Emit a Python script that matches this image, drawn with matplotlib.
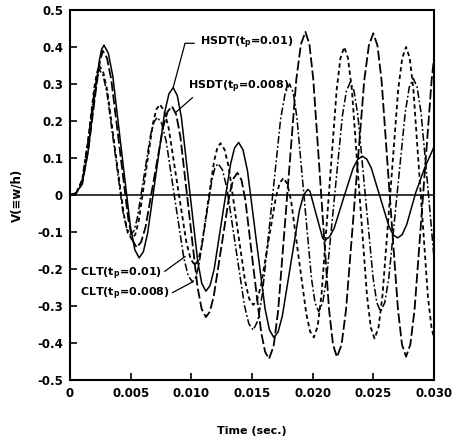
import matplotlib
matplotlib.use("Agg")
import matplotlib.pyplot as plt

# Non-dimensional deflection V = w/h vs time, HSDT and CLT, two pulse durations
plt.rcParams['font.family'] = ['DejaVu Sans']
plt.rcParams['font.weight'] = 'bold'
plt.rcParams['mathtext.fontset'] = 'dejavusans'

# HSDT, t_p = 0.01 (solid)
t_hsdt_01 = [0, 0.0005, 0.001, 0.0015, 0.002, 0.0024, 0.0026, 0.0028,
             0.00316, 0.00353, 0.00425, 0.00498, 0.00534, 0.0057,
             0.00605, 0.0064, 0.0071, 0.0078, 0.00815, 0.0085,
             0.00884, 0.00918, 0.00985, 0.01053, 0.01086, 0.0112,
             0.01154, 0.01188, 0.01255, 0.01323, 0.01356, 0.0139,
             0.01426, 0.01463, 0.01535, 0.01608, 0.01644, 0.0168,
             0.01715, 0.0175, 0.0182, 0.0189, 0.01925, 0.0196,
             0.01978, 0.0203, 0.02083, 0.0210,
             0.02139, 0.02178, 0.02255, 0.02333, 0.02371, 0.0241,
             0.02446, 0.02483, 0.02555, 0.02628, 0.02664, 0.0270,
             0.02738, 0.02775, 0.0285, 0.02925, 0.0300]
v_hsdt_01 = [0, 0.005, 0.03, 0.12, 0.26, 0.36, 0.393, 0.405,
             0.383, 0.321, 0.118, -0.086, -0.148, -0.17,
             -0.153, -0.103, 0.06, 0.223, 0.273, 0.29,
             0.269, 0.21, 0.015, -0.18, -0.239, -0.26,
             -0.245, -0.201, -0.059, 0.083, 0.127, 0.142,
             0.122, 0.065, -0.122, -0.308, -0.365, -0.385,
             -0.37, -0.327, -0.185, -0.043, 0.0, 0.015,
             0.01, -0.054, -0.117, -0.122,
             -0.113, -0.089, -0.008, 0.072, 0.096, 0.105,
             0.097, 0.073, -0.005, -0.084, -0.108, -0.116,
             -0.107, -0.08, 0.007, 0.075, 0.13]

# HSDT, t_p = 0.008 (long dash)
t_hsdt_008 = [0, 0.0005, 0.001, 0.0015, 0.002, 0.0024, 0.0027,
              0.00305, 0.0034, 0.0041, 0.0048, 0.00515, 0.0055,
              0.00586, 0.00623, 0.00695, 0.00768, 0.00804, 0.0084,
              0.00875, 0.0091, 0.0098, 0.0105, 0.01085, 0.0112,
              0.01153, 0.01185, 0.0125, 0.01315, 0.01348, 0.0138,
              0.01413, 0.01445, 0.0151, 0.01575, 0.01608, 0.0164,
              0.01678, 0.01715, 0.0179, 0.01865, 0.01903, 0.0194,
              0.01973, 0.02005, 0.0207, 0.02135, 0.02168, 0.0220,
              0.02238, 0.02275, 0.0235, 0.02425, 0.02463, 0.0250,
              0.02534, 0.02568, 0.02635, 0.02703, 0.02736, 0.0277,
              0.02805, 0.0284, 0.0291, 0.0298, 0.0300]
v_hsdt_008 = [0, 0.005, 0.03, 0.12, 0.25, 0.35, 0.39,
              0.37, 0.312, 0.124, -0.064, -0.122, -0.142,
              -0.127, -0.086, 0.049, 0.184, 0.225, 0.24,
              0.218, 0.157, -0.045, -0.247, -0.308, -0.33,
              -0.315, -0.273, -0.135, 0.003, 0.045, 0.06,
              0.041, -0.013, -0.192, -0.37, -0.424, -0.443,
              -0.409, -0.314, -0.001, 0.312, 0.407, 0.441,
              0.408, 0.313, 0.002, -0.31, -0.405, -0.438,
              -0.405, -0.31, 0.0, 0.309, 0.404, 0.437,
              0.404, 0.309, 0.0, -0.309, -0.404, -0.437,
              -0.404, -0.309, 0.0, 0.309, 0.37]

# CLT, t_p = 0.01 (short dash)
t_clt_01 = [0, 0.0005, 0.001, 0.0015, 0.002, 0.0022, 0.0024,
            0.00274, 0.00308, 0.00375, 0.00443, 0.00476, 0.0051,
            0.00539, 0.00568, 0.00625, 0.00683, 0.00711, 0.0074,
            0.00776, 0.00813, 0.00885, 0.00958, 0.00994, 0.0103,
            0.01056, 0.01083, 0.01135, 0.01188, 0.01214, 0.0124,
            0.01274, 0.01308, 0.01375, 0.01443, 0.01476, 0.0151,
            0.01541, 0.01573, 0.01635, 0.01698, 0.01729, 0.0176,
            0.01791, 0.01823, 0.01885, 0.01948, 0.01979, 0.0201,
            0.02041, 0.02073, 0.02135, 0.02198, 0.02229, 0.0226,
            0.02291, 0.02323, 0.02385, 0.02448, 0.02479, 0.0251,
            0.02543, 0.02575, 0.0264, 0.02705, 0.02738, 0.0277,
            0.0280, 0.0283, 0.0289, 0.0295, 0.0298, 0.0300]
v_clt_01 = [0, 0.005, 0.04, 0.15, 0.29, 0.327, 0.35,
            0.332, 0.281, 0.115, -0.051, -0.102, -0.12,
            -0.106, -0.067, 0.063, 0.192, 0.231, 0.245,
            0.228, 0.181, 0.028, -0.126, -0.173, -0.19,
            -0.177, -0.142, -0.025, 0.092, 0.127, 0.14,
            0.123, 0.076, -0.079, -0.233, -0.28, -0.297,
            -0.284, -0.247, -0.126, -0.004, 0.033, 0.046,
            0.03, -0.017, -0.17, -0.322, -0.369, -0.385,
            -0.355, -0.27, 0.008, 0.285, 0.37, 0.40,
            0.37, 0.285, 0.006, -0.273, -0.358, -0.388,
            -0.358, -0.273, 0.006, 0.285, 0.37, 0.40,
            0.37, 0.285, 0.005, -0.275, -0.36, -0.385]

# CLT, t_p = 0.008 (dash-dot)
t_clt_008 = [0, 0.0005, 0.001, 0.0015, 0.002, 0.0022, 0.0024,
             0.00273, 0.00305, 0.0037, 0.00435, 0.00468, 0.0050,
             0.00528, 0.00555, 0.0061, 0.00665, 0.00693, 0.0072,
             0.00756, 0.00793, 0.00865, 0.00938, 0.00974, 0.0101,
             0.01036, 0.01063, 0.01115, 0.01168, 0.01194, 0.0122,
             0.01256, 0.01293, 0.01365, 0.01438, 0.01474, 0.0151,
             0.01548, 0.01585, 0.0166, 0.01735, 0.01773, 0.0181,
             0.0184, 0.0187, 0.0193, 0.0199, 0.0202, 0.0205,
             0.02083, 0.02115, 0.0218, 0.02245, 0.02278, 0.0231,
             0.02341, 0.02373, 0.02435, 0.02498, 0.02529, 0.0256,
             0.02594, 0.02628, 0.02695, 0.02763, 0.02796, 0.0283,
             0.02861, 0.02893, 0.02955, 0.0300]
v_clt_008 = [0, 0.005, 0.04, 0.15, 0.28, 0.315, 0.34,
             0.323, 0.275, 0.116, -0.043, -0.091, -0.108,
             -0.096, -0.062, 0.051, 0.164, 0.198, 0.21,
             0.193, 0.145, -0.013, -0.17, -0.218, -0.235,
             -0.223, -0.188, -0.075, 0.038, 0.073, 0.085,
             0.068, 0.019, -0.14, -0.299, -0.348, -0.365,
             -0.34, -0.268, -0.033, 0.203, 0.275, 0.30,
             0.277, 0.21, -0.008, -0.225, -0.292, -0.315,
             -0.291, -0.224, -0.005, 0.214, 0.281, 0.305,
             0.281, 0.214, -0.005, -0.224, -0.291, -0.315,
             -0.291, -0.223, 0.0, 0.223, 0.291, 0.315,
             0.291, 0.223, 0.0, -0.17]

x_ticks = [0, 0.005, 0.010, 0.015, 0.020, 0.025, 0.030]
x_labels = ['0', '0.005', '0.010', '0.015', '0.020', '0.025', '0.030']
y_ticks = [0.5, 0.4, 0.3, 0.2, 0.1, 0, -0.1, -0.2, -0.3, -0.4, -0.5]
y_labels = ['0.5', '0.4', '0.3', '0.2', '0.1', '0',
            '-0.1', '-0.2', '-0.3', '-0.4', '-0.5']

fig = plt.figure(figsize=(4.57, 4.42), dpi=100)
ax = fig.add_axes([70 / 457, 62 / 442, 364 / 457, 370 / 442])

ax.plot(t_hsdt_01, v_hsdt_01, color='black', lw=1.1, ls='-')
ax.plot(t_hsdt_008, v_hsdt_008, color='black', lw=1.3, ls=(0, (5.5, 1.8)))
ax.plot(t_clt_01, v_clt_01, color='black', lw=1.3, ls=(0, (2.4, 1.8)))
ax.plot(t_clt_008, v_clt_008, color='black', lw=1.1, ls=(0, (5, 1.6, 1.2, 1.6)))
ax.axhline(0, color='black', lw=1.1)

ax.set_xlim(0, 0.030)
ax.set_ylim(-0.5, 0.5)
ax.set_xticks(x_ticks)
ax.set_xticklabels(x_labels)
ax.set_yticks(y_ticks)
ax.set_yticklabels(y_labels)
ax.tick_params(direction='in', length=5, width=1.2, labelsize=8.5, pad=5)
for s in ax.spines.values():
    s.set_linewidth(1.5)

ax.set_xlabel('Time (sec.)', fontsize=8, fontweight='bold', labelpad=19)
ax.set_ylabel('V(≡w/h)', fontsize=8.5, fontweight='bold', labelpad=10)

# leader labels for each curve
i_pk = v_hsdt_01.index(0.29)
ax.annotate(r'HSDT(t$_\mathbf{p}$=0.01)', xy=(t_hsdt_01[i_pk], v_hsdt_01[i_pk]),
            xytext=(0.0107, 0.41), fontsize=8, fontweight='bold',
            ha='left', va='center',
            arrowprops=dict(arrowstyle='-', lw=0.9, relpos=(0, 0.5),
                            shrinkA=2, shrinkB=0,
                            connectionstyle='angle,angleA=0,angleB=75,rad=0'))
ax.annotate(r'HSDT(t$_\mathbf{p}$=0.008)', xy=(0.0087, 0.223),
            xytext=(0.0097, 0.293), fontsize=8, fontweight='bold',
            ha='left', va='center',
            arrowprops=dict(arrowstyle='-', lw=0.9, relpos=(0.08, 0.0),
                            shrinkA=0, shrinkB=0))
ax.annotate(r'CLT(t$_\mathbf{p}$=0.01)', xy=(0.0095, -0.166),
            xytext=(0.0008, -0.212), fontsize=8, fontweight='bold',
            ha='left', va='center',
            arrowprops=dict(arrowstyle='-', lw=0.9, relpos=(1, 0.5),
                            shrinkA=0, shrinkB=0))
i_mn = v_clt_008.index(-0.235)
ax.annotate(r'CLT(t$_\mathbf{p}$=0.008)', xy=(t_clt_008[i_mn], v_clt_008[i_mn]),
            xytext=(0.0008, -0.268), fontsize=8, fontweight='bold',
            ha='left', va='center',
            arrowprops=dict(arrowstyle='-', lw=0.9, relpos=(1, 0.5),
                            shrinkA=0, shrinkB=0))

fig.savefig('out.png', dpi=100)
